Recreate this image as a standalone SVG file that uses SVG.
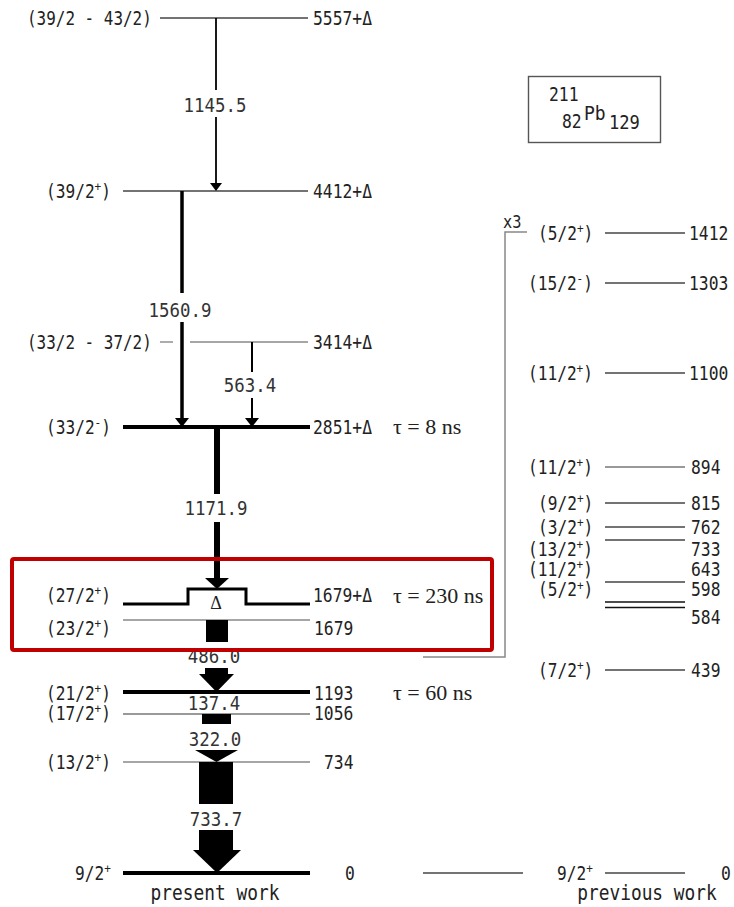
<svg xmlns="http://www.w3.org/2000/svg" width="734" height="907" viewBox="0 0 734 907">
<style>
.lv{font-family:'DejaVu Sans Mono','Liberation Mono',monospace;font-size:19px;fill:#222}
.tr{font-family:'DejaVu Sans Mono','Liberation Mono',monospace;font-size:20px;fill:#333;text-anchor:middle}
.cap{font-family:'DejaVu Sans Mono','Liberation Mono',monospace;font-size:21px;fill:#222;text-anchor:middle}
.tau{font-family:'Liberation Serif','Times New Roman',serif;font-size:22px;fill:#222}
.sup{font-size:13px}
.thin{stroke:#777;stroke-width:1.4;fill:none}
.lt{stroke:#888;stroke-width:1.4;fill:none}
.dk{stroke:#444;stroke-width:1.4;fill:none}
.thick{stroke:#000;stroke-width:4;fill:none}
.blk{fill:#000}
</style>
<rect width="734" height="907" fill="#fff"/>

<!-- present work levels -->
<g id="lvl-5557">
<line x1="160" y1="18" x2="308" y2="18" class="dk"/>
<text class="lv" transform="translate(27 25) scale(.84 1)">(39/2 - 43/2)</text>
<text class="lv" transform="translate(313 25) scale(.86 1)">5557+Δ</text>
</g>
<g id="lvl-4412">
<line x1="123" y1="191" x2="308" y2="191" class="dk"/>
<text class="lv" transform="translate(46 198) scale(.85 1)">(39/2<tspan class="sup" dy="-7">+</tspan><tspan dy="7">)</tspan></text>
<text class="lv" transform="translate(313 198) scale(.86 1)">4412+Δ</text>
</g>
<g id="lvl-3414">
<line x1="160" y1="342" x2="173" y2="342" class="lt"/>
<line x1="190" y1="342" x2="308" y2="342" class="lt"/>
<text class="lv" transform="translate(27 349) scale(.84 1)">(33/2 - 37/2)</text>
<text class="lv" transform="translate(313 349) scale(.86 1)">3414+Δ</text>
</g>
<g id="lvl-2851">
<line x1="123" y1="427" x2="310" y2="427" class="thick"/>
<text class="lv" transform="translate(46 434) scale(.85 1)">(33/2<tspan class="sup" dy="-7">-</tspan><tspan dy="7">)</tspan></text>
<text class="lv" transform="translate(313 434) scale(.86 1)">2851+Δ</text>
<text class="tau" x="393" y="434">τ = 8 ns</text>
</g>
<g id="lvl-1679D">
<polyline points="123,604 188,604 188,589 246,589 246,604 310,604" fill="none" stroke="#000" stroke-width="3"/>
<text x="216" y="609" text-anchor="middle" style="font-family:'Liberation Serif',serif;font-size:18px;fill:#222">Δ</text>
<text class="lv" transform="translate(46 602) scale(.85 1)">(27/2<tspan class="sup" dy="-7">+</tspan><tspan dy="7">)</tspan></text>
<text class="lv" transform="translate(313 602) scale(.86 1)">1679+Δ</text>
<text class="tau" x="393" y="603">τ = 230 ns</text>
</g>
<g id="lvl-1679">
<line x1="123" y1="620" x2="310" y2="620" class="lt"/>
<text class="lv" transform="translate(46 635) scale(.85 1)">(23/2<tspan class="sup" dy="-7">+</tspan><tspan dy="7">)</tspan></text>
<text class="lv" transform="translate(314 635) scale(.86 1)">1679</text>
</g>
<g id="lvl-1193">
<line x1="123" y1="692" x2="310" y2="692" class="thick"/>
<text class="lv" transform="translate(46 700) scale(.85 1)">(21/2<tspan class="sup" dy="-7">+</tspan><tspan dy="7">)</tspan></text>
<text class="lv" transform="translate(314 700) scale(.86 1)">1193</text>
<text class="tau" x="393" y="700">τ = 60 ns</text>
</g>
<g id="lvl-1056">
<line x1="123" y1="714" x2="310" y2="714" class="thin"/>
<text class="lv" transform="translate(46 720) scale(.85 1)">(17/2<tspan class="sup" dy="-7">+</tspan><tspan dy="7">)</tspan></text>
<text class="lv" transform="translate(314 720) scale(.86 1)">1056</text>
</g>
<g id="lvl-734">
<line x1="123" y1="762" x2="310" y2="762" class="lt"/>
<text class="lv" transform="translate(46 769) scale(.85 1)">(13/2<tspan class="sup" dy="-7">+</tspan><tspan dy="7">)</tspan></text>
<text class="lv" transform="translate(324 769) scale(.86 1)">734</text>
</g>
<g id="lvl-0">
<line x1="123" y1="873" x2="310" y2="873" class="thick"/>
<text class="lv" transform="translate(75 880) scale(.85 1)">9/2<tspan class="sup" dy="-7">+</tspan></text>
<text class="lv" transform="translate(345 880) scale(.86 1)">0</text>
</g>
<text class="cap" transform="translate(215 900) scale(.85 1)">present work</text>

<!-- transitions -->
<g id="connectors">
<g stroke="#000" stroke-width="1.8">
<line x1="216" y1="18" x2="216" y2="90"/>
<line x1="216" y1="117" x2="216" y2="184"/>
</g>
<polygon class="blk" points="210,183 222,183 216,191"/>
<text class="tr" transform="translate(215 112) scale(.87 1)">1145.5</text>

<g stroke="#000" stroke-width="3.5">
<line x1="182" y1="191" x2="182" y2="293"/>
<line x1="182" y1="322" x2="182" y2="419"/>
</g>
<polygon class="blk" points="175,418 189,418 182,427"/>
<text class="tr" transform="translate(180 317) scale(.87 1)">1560.9</text>

<g stroke="#000" stroke-width="2">
<line x1="252" y1="342" x2="252" y2="372"/>
<line x1="252" y1="398" x2="252" y2="419"/>
</g>
<polygon class="blk" points="245,418 259,418 252,427"/>
<text class="tr" transform="translate(250 392) scale(.87 1)">563.4</text>

<g stroke="#000" stroke-width="6">
<line x1="217" y1="427" x2="217" y2="494"/>
<line x1="217" y1="522" x2="217" y2="579"/>
</g>
<polygon class="blk" points="205,578 229,578 217,589"/>
<text class="tr" transform="translate(216 515) scale(.87 1)">1171.9</text>

<rect class="blk" x="206" y="620" width="22" height="22"/>
<rect class="blk" x="205" y="668" width="23" height="7"/>
<polygon class="blk" points="199,674 234,674 216.5,692"/>
<text class="tr" transform="translate(214 663) scale(.87 1)">486.0</text>

<text class="tr" transform="translate(214 710) scale(.87 1)">137.4</text>

<rect class="blk" x="202" y="714" width="29" height="10"/>
<polygon class="blk" points="195,750 238,750 216.5,762"/>
<text class="tr" transform="translate(215 746) scale(.87 1)">322.0</text>

<rect class="blk" x="199" y="762" width="34" height="42"/>
<rect class="blk" x="199" y="830" width="34" height="21"/>
<polygon class="blk" points="193,850 241,850 217,873"/>
<text class="tr" transform="translate(216 826) scale(.87 1)">733.7</text>
</g>

<!-- nucleus label -->
<g id="title">
<rect x="528.5" y="76.5" width="132" height="66" fill="#fff" stroke="#555" stroke-width="1.4"/>
<text class="lv" transform="translate(549 101) scale(.86 1)">211</text>
<text class="lv" transform="translate(562 128) scale(.86 1)">82</text>
<text class="lv" style="font-size:20px" transform="translate(584 120) scale(.9 1)">Pb</text>
<text class="lv" transform="translate(609 129) scale(.9 1)">129</text>
</g>

<!-- x3 bracket -->
<g id="x3-bracket">
<polyline points="423,657 505,657 505,232 527,232" fill="none" stroke="#888" stroke-width="1.5"/>
<text class="lv" style="font-size:17px" transform="translate(503 228) scale(.9 1)">x3</text>
<line x1="423" y1="873" x2="523" y2="873" class="dk"/>
</g>

<!-- previous work levels -->
<g id="prev-1412">
<line x1="605" y1="233" x2="685" y2="233" class="dk"/>
<text class="lv" transform="translate(538 240) scale(.85 1)">(5/2<tspan class="sup" dy="-7">+</tspan><tspan dy="7">)</tspan></text>
<text class="lv" transform="translate(689 240) scale(.86 1)">1412</text>
</g>
<g id="prev-1303">
<line x1="605" y1="283" x2="685" y2="283" class="dk"/>
<text class="lv" transform="translate(528 290) scale(.85 1)">(15/2<tspan class="sup" dy="-7">-</tspan><tspan dy="7">)</tspan></text>
<text class="lv" transform="translate(689 290) scale(.86 1)">1303</text>
</g>
<g id="prev-1100">
<line x1="605" y1="373" x2="685" y2="373" class="dk"/>
<text class="lv" transform="translate(528 380) scale(.85 1)">(11/2<tspan class="sup" dy="-7">+</tspan><tspan dy="7">)</tspan></text>
<text class="lv" transform="translate(689 380) scale(.86 1)">1100</text>
</g>
<g id="prev-894">
<line x1="605" y1="467" x2="685" y2="467" class="thin"/>
<text class="lv" transform="translate(528 474) scale(.85 1)">(11/2<tspan class="sup" dy="-7">+</tspan><tspan dy="7">)</tspan></text>
<text class="lv" transform="translate(691 474) scale(.86 1)">894</text>
</g>
<g id="prev-815">
<line x1="605" y1="503" x2="685" y2="503" class="dk"/>
<text class="lv" transform="translate(538 510) scale(.85 1)">(9/2<tspan class="sup" dy="-7">+</tspan><tspan dy="7">)</tspan></text>
<text class="lv" transform="translate(691 510) scale(.86 1)">815</text>
</g>
<g id="prev-762">
<line x1="605" y1="527" x2="685" y2="527" class="dk"/>
<text class="lv" transform="translate(538 534) scale(.85 1)">(3/2<tspan class="sup" dy="-7">+</tspan><tspan dy="7">)</tspan></text>
<text class="lv" transform="translate(691 534) scale(.86 1)">762</text>
</g>
<g id="prev-733">
<line x1="605" y1="540" x2="685" y2="540" class="dk"/>
<text class="lv" transform="translate(528 556) scale(.85 1)">(13/2<tspan class="sup" dy="-7">+</tspan><tspan dy="7">)</tspan></text>
<text class="lv" transform="translate(691 556) scale(.86 1)">733</text>
</g>
<g id="prev-643">
<line x1="605" y1="582" x2="685" y2="582" class="dk"/>
<text class="lv" transform="translate(528 576) scale(.85 1)">(11/2<tspan class="sup" dy="-7">+</tspan><tspan dy="7">)</tspan></text>
<text class="lv" transform="translate(691 576) scale(.86 1)">643</text>
</g>
<g id="prev-598">
<line x1="605" y1="602" x2="685" y2="602" stroke="#111" stroke-width="1.4"/>
<text class="lv" transform="translate(538 596) scale(.85 1)">(5/2<tspan class="sup" dy="-6">+</tspan><tspan dy="6">)</tspan></text>
<text class="lv" transform="translate(691 596) scale(.86 1)">598</text>
</g>
<g id="prev-584">
<line x1="605" y1="607.5" x2="685" y2="607.5" stroke="#111" stroke-width="1.4"/>
<text class="lv" transform="translate(691 624) scale(.86 1)">584</text>
</g>
<g id="prev-439">
<line x1="605" y1="670" x2="685" y2="670" class="dk"/>
<text class="lv" transform="translate(538 677) scale(.85 1)">(7/2<tspan class="sup" dy="-7">+</tspan><tspan dy="7">)</tspan></text>
<text class="lv" transform="translate(691 677) scale(.86 1)">439</text>
</g>
<g id="prev-0">
<line x1="605" y1="873" x2="685" y2="873" class="dk"/>
<text class="lv" transform="translate(557 880) scale(.85 1)">9/2<tspan class="sup" dy="-7">+</tspan></text>
<text class="lv" transform="translate(721 880) scale(.86 1)">0</text>
</g>
<text class="cap" transform="translate(647 900) scale(.85 1)">previous work</text>

<!-- highlight -->
<rect id="highlight" x="12" y="559" width="480" height="91" rx="2" fill="none" stroke="#c00000" stroke-width="4"/>
</svg>
